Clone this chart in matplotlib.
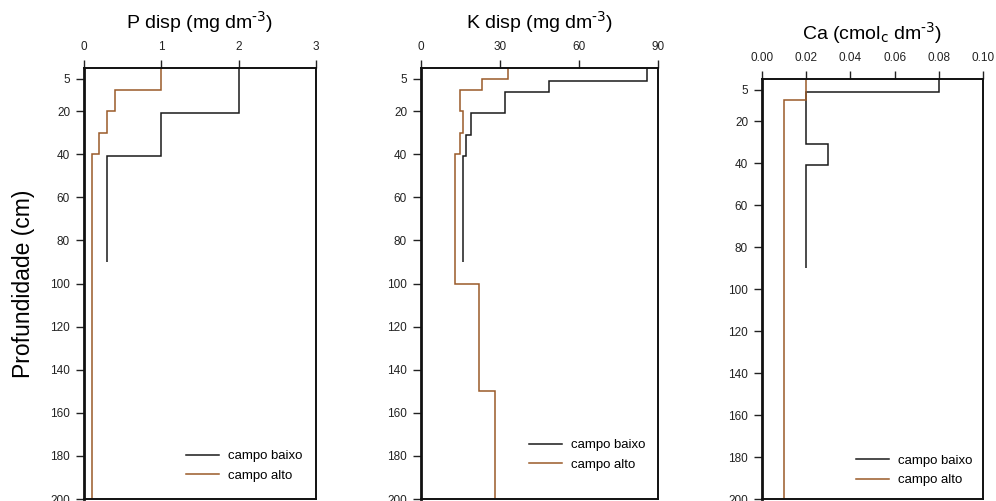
import numpy as np
import matplotlib
matplotlib.use("Agg")
import matplotlib.pyplot as plt
from matplotlib.ticker import FormatStrFormatter

plt.rcParams['font.family'] = ['Liberation Sans', 'DejaVu Sans']
plt.rcParams['mathtext.default'] = 'regular'

# ---- data (depth edges in cm, values per layer) ----
depth_baixo = [0, 6, 11, 21, 31, 41, 90]
depth_alto = [0, 5, 10, 20, 30, 40, 100, 150, 200]

p_baixo = [2.0, 2.0, 2.0, 1.0, 1.0, 0.3]
p_alto = [1.0, 1.0, 0.4, 0.3, 0.2, 0.1, 0.1, 0.1]

k_baixo = [86, 48.6, 31.8, 19, 17, 16]
k_alto = [33, 23, 14.7, 16, 14.7, 12.8, 21.9, 28]

ca_baixo = [0.08, 0.02, 0.02, 0.02, 0.03, 0.02]
ca_alto = [0.02, 0.02, 0.01, 0.01, 0.01, 0.01, 0.01, 0.01]

titles = ["P disp (mg dm$^{\\text{-3}}$)", "K disp (mg dm$^{\\text{-3}}$)",
          "Ca (cmol$_{\\text{c}}$ dm$^{\\text{-3}}$)"]
xticks_list = [[0, 1, 2, 3], [0, 30, 60, 90], [0.0, 0.02, 0.04, 0.06, 0.08, 0.10]]
yticks = [5, 20, 40, 60, 80, 100, 120, 140, 160, 180, 200]
labels = ["campo baixo", "campo alto"]

c_baixo = "#1a1a1a"
c_alto = "#9a5a28"

W, H = 996, 501
fig = plt.figure(figsize=(W / 100, H / 100), dpi=100)

# axes boxes in pixels: left, right, top, bottom
boxes = [(84, 316, 68, 499), (421, 658, 68, 499), (762, 983, 79, 499)]
legend_anchor = [(0.94, 0.04), (0.945, 0.065), (0.95, 0.03)]

series = [(p_baixo, p_alto), (k_baixo, k_alto), (ca_baixo, ca_alto)]

for i, (box, (vb, va)) in enumerate(zip(boxes, series)):
    l, r, t, b = box
    ax = fig.add_axes([l / W, 1 - b / H, (r - l) / W, (b - t) / H])
    ax.stairs(vb, depth_baixo, orientation='horizontal', baseline=None,
              color=c_baixo, lw=1.1, label=labels[0])
    ax.stairs(va, depth_alto, orientation='horizontal', baseline=None,
              color=c_alto, lw=1.1, label=labels[1])
    xt = xticks_list[i]
    ax.set_xlim(xt[0], xt[-1])
    ax.set_ylim(200, 0)
    ax.set_xticks(xt)
    ax.set_yticks(yticks)
    if i == 2:
        ax.xaxis.set_major_formatter(FormatStrFormatter('%.2f'))
    ax.xaxis.tick_top()
    ax.tick_params(axis='x', direction='out', length=6, width=1, pad=5,
                   labelsize=8.5, colors='#222222')
    ax.tick_params(axis='y', direction='out', length=6, width=1, pad=4,
                   labelsize=8.5, colors='#222222')
    for s in ax.spines.values():
        s.set_linewidth(1.4)
        s.set_color('#111111')
    ax.spines['left'].set_linewidth(2.0)
    ax.text(0.5, 1 + 46 / (b - t), titles[i], transform=ax.transAxes,
            ha='center', va='center', fontsize=14)
    leg = ax.legend(loc='lower right', bbox_to_anchor=legend_anchor[i],
                    frameon=False, fontsize=9.5, handlelength=2.5,
                    handletextpad=0.65, borderpad=0, borderaxespad=0,
                    labelspacing=0.55)
    if i == 0:
        ax.set_ylabel("Profundidade (cm)", fontsize=16.5)
        ax.yaxis.set_label_coords((35 - l) / (r - l), 0.5)

fig.savefig("out.png", dpi=100)
